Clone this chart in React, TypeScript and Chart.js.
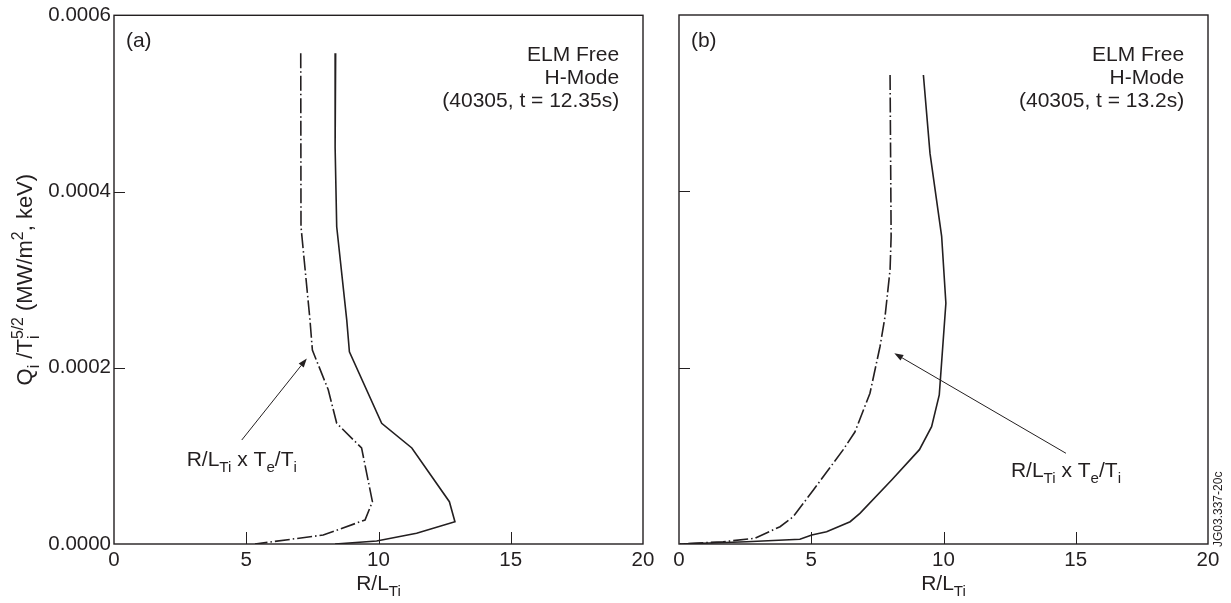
import React, { useEffect, useRef } from "react";
import { Chart, registerables } from "chart.js";

Chart.register(...registerables);

const FAMILY = "'Liberation Sans', Arial, Helvetica, sans-serif";
const INK = "#231f20";

// ---- axis ticks ----
const X_TICKS = [0, 5, 10, 15, 20];
const Y_TICKS = [0, 0.0002, 0.0004, 0.0006];
const X_INNER_TICKS = [5, 10, 15];
const Y_INNER_TICKS = [0.0002, 0.0004];

// ---- panel (a): ELM free H-mode, t = 12.35 s ----
const aSolidX = [8.38, 8.36, 8.42, 8.8, 8.9, 10.12, 11.26, 12.68, 12.89, 11.44, 9.93, 8.36];
const aSolidY = [0.000557, 0.00045, 0.00036, 0.000254, 0.000218, 0.000137, 0.000109, 0.000048, 0.0000253, 0.0000121, 0.0000034, 0];
const aDashX = [7.06, 7.07, 7.41, 7.5, 8.1, 8.42, 9.36, 9.77, 9.49, 7.91, 5.33];
const aDashY = [0.000557, 0.00036, 0.000254, 0.00022, 0.000175, 0.000137, 0.000109, 0.000048, 0.0000272, 0.0000102, 0];

// ---- panel (b): ELM free H-mode, t = 13.2 s ----
const bSolidX = [9.24, 9.49, 9.93, 10.09, 9.84, 9.55, 9.09, 8.04, 6.84, 6.47, 5.58, 5.02, 4.57, 2.56, 0.04];
const bSolidY = [0.000532, 0.000443, 0.000349, 0.000273, 0.000169, 0.000133, 0.000107, 0.0000726, 0.0000348, 0.0000253, 0.000014, 0.0000102, 0.0000053, 0.0000026, 0];
const bDashX = [7.98, 8.02, 7.98, 7.79, 7.6, 7.22, 6.65, 6.21, 5.08, 4.32, 3.82, 2.87, 1.67, 0.04];
const bDashY = [0.000532, 0.000349, 0.000311, 0.000258, 0.000224, 0.000171, 0.000127, 0.000107, 0.0000612, 0.000031, 0.0000196, 0.0000065, 0.0000026, 0];

// ---- texts ----
const INFO_A = ["ELM Free", "H-Mode", "(40305, t = 12.35s)"];
const INFO_B = ["ELM Free", "H-Mode", "(40305, t = 13.2s)"];
const INFO_Y = [0.0005546, 0.0005285, 0.0005025];
const CODE_TEXT = "JG03.337-20c";

type Seg = { t: string; k?: "sub" | "sup"; s?: string };
const X_TITLE: Seg[] = [{ t: "R/L" }, { t: "Ti", k: "sub" }];
const Y_TITLE: Seg[] = [
  { t: "Q" },
  { t: "i", k: "sub" },
  { t: " /T" },
  { t: "i", k: "sub", s: "5/2" },
  { t: " (MW/m" },
  { t: "2", k: "sup" },
  { t: ", keV)" },
];
const RATIO_LABEL: Seg[] = [
  { t: "R/L" },
  { t: "Ti", k: "sub" },
  { t: " x T" },
  { t: "e", k: "sub" },
  { t: "/T" },
  { t: "i", k: "sub" },
];

const font = (sz: number) => `${sz}px ${FAMILY}`;

function segWidth(ctx: CanvasRenderingContext2D, seg: Seg, size: number) {
  if (!seg.k) {
    ctx.font = font(size);
    return ctx.measureText(seg.t).width;
  }
  ctx.font = font(size * 0.72);
  let w = ctx.measureText(seg.t).width;
  if (seg.s) w = Math.max(w, ctx.measureText(seg.s).width);
  return w;
}

function drawRich(
  ctx: CanvasRenderingContext2D,
  segs: Seg[],
  x: number,
  y: number,
  size: number,
  align: "left" | "center" | "right"
) {
  const ws = segs.map((s) => segWidth(ctx, s, size));
  const total = ws.reduce((a, b) => a + b, 0);
  let cx = align === "left" ? x : align === "center" ? x - total / 2 : x - total;
  ctx.textAlign = "left";
  ctx.textBaseline = "alphabetic";
  segs.forEach((s, i) => {
    if (!s.k) {
      ctx.font = font(size);
      ctx.fillText(s.t, cx, y);
    } else {
      ctx.font = font(size * 0.72);
      const dy = s.k === "sub" ? size * 0.3 : -size * 0.42;
      ctx.fillText(s.t, cx, y + dy);
      if (s.s) ctx.fillText(s.s, cx, y - size * 0.42);
    }
    cx += ws[i];
  });
}

type PanelCfg = {
  letter: string;
  info: string[];
  arrow: { hx: number; hy: number; tx: number; ty: number; ly: number };
  yTitle: boolean;
  code: boolean;
};

function makeDeco(cfg: PanelCfg) {
  return {
    id: "deco",
    afterDraw(chart: any) {
      const { ctx, chartArea: ca, scales } = chart;
      const xs = scales.x;
      const ys = scales.y;
      ctx.save();
      ctx.strokeStyle = INK;
      ctx.fillStyle = INK;
      ctx.lineWidth = 1.4;
      ctx.setLineDash([]);
      ctx.strokeRect(ca.left, ca.top, ca.right - ca.left, ca.bottom - ca.top);
      ctx.lineWidth = 1;
      ctx.beginPath();
      X_INNER_TICKS.forEach((v) => {
        const px = Math.round(xs.getPixelForValue(v)) + 0.5;
        ctx.moveTo(px, ca.bottom);
        ctx.lineTo(px, ca.bottom - 12);
      });
      Y_INNER_TICKS.forEach((v) => {
        const py = Math.round(ys.getPixelForValue(v)) + 0.5;
        ctx.moveTo(ca.left, py);
        ctx.lineTo(ca.left + 11, py);
      });
      ctx.stroke();

      // axis titles
      drawRich(ctx, X_TITLE, (ca.left + ca.right) / 2, 590, 21, "center");
      if (cfg.yTitle) {
        ctx.save();
        ctx.translate(32, (ca.top + ca.bottom) / 2);
        ctx.rotate(-Math.PI / 2);
        drawRich(ctx, Y_TITLE, 0, 0, 22, "center");
        ctx.restore();
      }

      // panel letter
      ctx.font = font(21);
      ctx.textAlign = "left";
      ctx.textBaseline = "middle";
      ctx.fillText(cfg.letter, xs.getPixelForValue(0.45), ys.getPixelForValue(0.0005705));

      // info text
      ctx.textAlign = "right";
      cfg.info.forEach((t, i) => {
        ctx.fillText(t, xs.getPixelForValue(19.1), ys.getPixelForValue(INFO_Y[i]));
      });

      // arrow
      const a = cfg.arrow;
      const hx = xs.getPixelForValue(a.hx);
      const hy = ys.getPixelForValue(a.hy);
      const tx = xs.getPixelForValue(a.tx);
      const ty = ys.getPixelForValue(a.ty);
      const ang = Math.atan2(hy - ty, hx - tx);
      const L = 9;
      const W = 3.2;
      const bx = hx - L * Math.cos(ang);
      const by = hy - L * Math.sin(ang);
      ctx.lineWidth = 1;
      ctx.beginPath();
      ctx.moveTo(tx, ty);
      ctx.lineTo(bx, by);
      ctx.stroke();
      ctx.beginPath();
      ctx.moveTo(hx, hy);
      ctx.lineTo(bx + W * Math.sin(ang), by - W * Math.cos(ang));
      ctx.lineTo(bx - W * Math.sin(ang), by + W * Math.cos(ang));
      ctx.closePath();
      ctx.fill();
      drawRich(ctx, RATIO_LABEL, tx, ys.getPixelForValue(a.ly), 21, "center");

      if (cfg.code) {
        ctx.save();
        ctx.translate(chart.width - 9, ca.bottom + 3);
        ctx.rotate(-Math.PI / 2);
        ctx.font = font(12);
        ctx.textAlign = "left";
        ctx.textBaseline = "alphabetic";
        ctx.fillText(CODE_TEXT, 0, 0);
        ctx.restore();
      }
      ctx.restore();
    },
  };
}

function toPts(xs: number[], ys: number[]) {
  return xs.map((x, i) => ({ x, y: ys[i] }));
}

function buildConfig(
  solidX: number[],
  solidY: number[],
  dashX: number[],
  dashY: number[],
  yAxisWidth: number,
  showYLabels: boolean,
  padRight: number,
  cfg: PanelCfg
): any {
  return {
    type: "scatter",
    data: {
      datasets: [
        {
          data: toPts(solidX, solidY),
          showLine: true,
          borderColor: INK,
          borderWidth: 1.6,
          pointRadius: 0,
          tension: 0,
        },
        {
          data: toPts(dashX, dashY),
          showLine: true,
          borderColor: INK,
          borderWidth: 1.6,
          borderDash: [15, 3, 1.5, 3],
          pointRadius: 0,
          tension: 0,
        },
      ],
    },
    options: {
      responsive: false,
      animation: false,
      events: [],
      layout: { padding: { top: 15, right: padRight, left: 0, bottom: 0 } },
      plugins: { legend: { display: false }, tooltip: { enabled: false } },
      scales: {
        x: {
          type: "linear",
          min: 0,
          max: 20,
          afterBuildTicks: (s: any) => {
            s.ticks = X_TICKS.map((v) => ({ value: v }));
          },
          afterFit: (s: any) => {
            s.height = 59;
          },
          ticks: {
            font: { family: FAMILY, size: 20.5 },
            color: INK,
            padding: 4,
            maxRotation: 0,
            autoSkip: false,
            callback: (v: any) => String(v),
          },
          grid: { display: false, drawTicks: false },
          border: { display: false },
        },
        y: {
          type: "linear",
          min: 0,
          max: 0.0006,
          afterBuildTicks: (s: any) => {
            s.ticks = Y_TICKS.map((v) => ({ value: v }));
          },
          afterFit: (s: any) => {
            s.width = yAxisWidth;
          },
          ticks: {
            display: showYLabels,
            font: { family: FAMILY, size: 20.5 },
            color: INK,
            padding: 3,
            autoSkip: false,
            callback: (v: any) => Number(v).toFixed(4),
          },
          grid: { display: false, drawTicks: false },
          border: { display: false },
        },
      },
    },
    plugins: [makeDeco(cfg)],
  };
}

export default function App() {
  const refA = useRef<HTMLCanvasElement>(null);
  const refB = useRef<HTMLCanvasElement>(null);

  useEffect(() => {
    document.body.style.margin = "0";
    const cA = new Chart(
      refA.current as HTMLCanvasElement,
      buildConfig(aSolidX, aSolidY, aDashX, aDashY, 114, true, 17, {
        letter: "(a)",
        info: INFO_A,
        arrow: { hx: 7.29, hy: 0.0002106, tx: 4.83, ty: 0.000118, ly: 0.0000885 },
        yTitle: true,
        code: false,
      })
    );
    const cB = new Chart(
      refB.current as HTMLCanvasElement,
      buildConfig(bSolidX, bSolidY, bDashX, bDashY, 19, false, 23, {
        letter: "(b)",
        info: INFO_B,
        arrow: { hx: 8.14, hy: 0.0002163, tx: 14.63, ty: 0.0001029, ly: 0.0000763 },
        yTitle: false,
        code: true,
      })
    );
    return () => {
      cA.destroy();
      cB.destroy();
    };
  }, []);

  return (
    <div style={{ position: "fixed", left: 0, top: 0, width: 1231, height: 603, background: "#fff" }}>
      <canvas
        ref={refA}
        width={660}
        height={603}
        style={{ position: "absolute", left: 0, top: 0, width: 660, height: 603 }}
      />
      <canvas
        ref={refB}
        width={571}
        height={603}
        style={{ position: "absolute", left: 660, top: 0, width: 571, height: 603 }}
      />
    </div>
  );
}
